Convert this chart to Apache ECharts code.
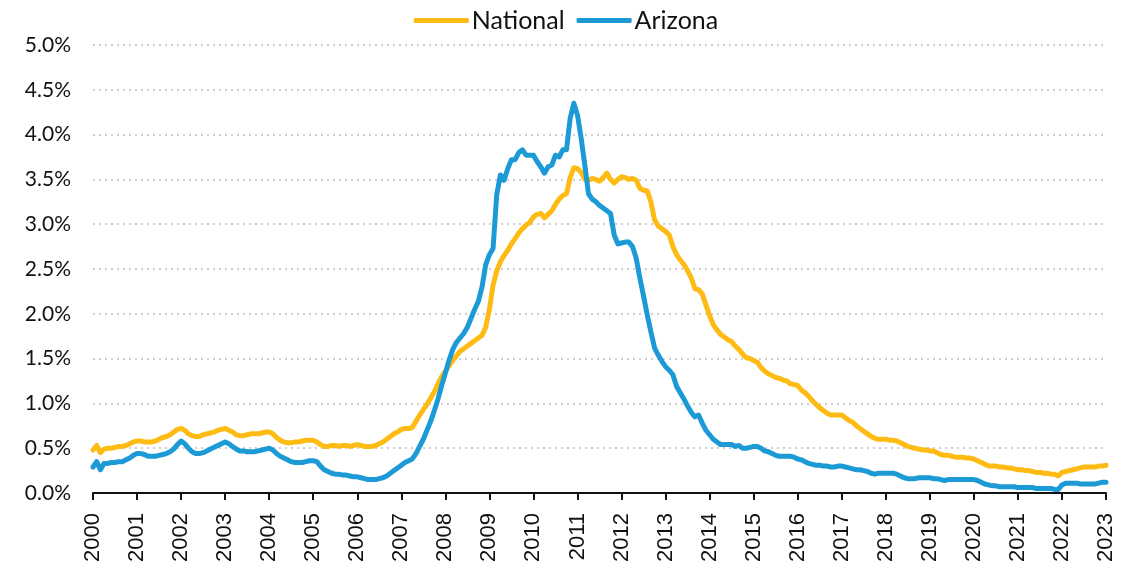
<!DOCTYPE html>
<html>
<head>
<meta charset="utf-8">
<script src="https://cdn.jsdelivr.net/npm/echarts@6/dist/echarts.min.js"></script>
<style>
	html, body { margin: 0; padding: 0; background: #fff; }
	#chart { width: 1132px; height: 562px; }
</style>
</head>
<body>
<div id="chart"></div>
<script>
// 月度数据，2000-01 至 2023-01（百分比）
let startYear = 2000
let endYear = 2023

let national = [
	0.48, 0.53, 0.45, 0.49, 0.50, 0.50, 0.51, 0.52, 0.52, 0.53, 0.55, 0.57, // 2000
	0.58, 0.58, 0.57, 0.57, 0.57, 0.58, 0.60, 0.62, 0.63, 0.65, 0.68, 0.71, // 2001
	0.72, 0.70, 0.66, 0.64, 0.63, 0.63, 0.65, 0.66, 0.67, 0.68, 0.70, 0.71, // 2002
	0.72, 0.70, 0.68, 0.65, 0.64, 0.64, 0.65, 0.66, 0.66, 0.66, 0.67, 0.68, // 2003
	0.68, 0.66, 0.62, 0.59, 0.57, 0.56, 0.56, 0.57, 0.57, 0.58, 0.59, 0.59, // 2004
	0.59, 0.57, 0.54, 0.52, 0.52, 0.53, 0.53, 0.52, 0.53, 0.53, 0.52, 0.53, // 2005
	0.54, 0.53, 0.52, 0.52, 0.52, 0.53, 0.55, 0.57, 0.60, 0.63, 0.66, 0.68, // 2006
	0.71, 0.72, 0.72, 0.73, 0.80, 0.87, 0.93, 0.99, 1.06, 1.13, 1.22, 1.30, // 2007
	1.36, 1.42, 1.48, 1.53, 1.58, 1.61, 1.64, 1.67, 1.70, 1.73, 1.76, 1.85, // 2008
	2.05, 2.32, 2.48, 2.58, 2.65, 2.71, 2.78, 2.84, 2.90, 2.95, 2.99, 3.02, // 2009
	3.08, 3.11, 3.12, 3.07, 3.11, 3.15, 3.22, 3.28, 3.32, 3.34, 3.52, 3.63, // 2010
	3.62, 3.58, 3.50, 3.49, 3.51, 3.50, 3.48, 3.52, 3.57, 3.50, 3.46, 3.50, // 2011
	3.53, 3.52, 3.50, 3.51, 3.49, 3.40, 3.38, 3.37, 3.25, 3.05, 2.98, 2.95, // 2012
	2.92, 2.88, 2.75, 2.66, 2.60, 2.55, 2.48, 2.40, 2.28, 2.27, 2.22, 2.10, // 2013
	1.98, 1.88, 1.82, 1.77, 1.74, 1.71, 1.69, 1.64, 1.60, 1.55, 1.51, 1.50, // 2014
	1.48, 1.46, 1.40, 1.36, 1.33, 1.31, 1.29, 1.28, 1.26, 1.25, 1.22, 1.21, // 2015
	1.20, 1.15, 1.12, 1.08, 1.03, 0.99, 0.95, 0.92, 0.89, 0.87, 0.87, 0.87, // 2016
	0.87, 0.84, 0.81, 0.79, 0.75, 0.72, 0.69, 0.66, 0.63, 0.61, 0.60, 0.60, // 2017
	0.60, 0.59, 0.59, 0.58, 0.56, 0.54, 0.52, 0.51, 0.50, 0.49, 0.48, 0.48, // 2018
	0.47, 0.47, 0.45, 0.43, 0.42, 0.42, 0.41, 0.40, 0.40, 0.40, 0.39, 0.39, // 2019
	0.38, 0.36, 0.34, 0.32, 0.30, 0.30, 0.30, 0.29, 0.29, 0.28, 0.28, 0.27, // 2020
	0.26, 0.26, 0.25, 0.25, 0.24, 0.23, 0.23, 0.22, 0.22, 0.21, 0.21, 0.19, // 2021
	0.23, 0.24, 0.25, 0.26, 0.27, 0.28, 0.29, 0.29, 0.29, 0.29, 0.30, 0.30, // 2022
	0.31 // 2023-01
]

let arizona = [
	0.29, 0.35, 0.26, 0.33, 0.33, 0.34, 0.34, 0.35, 0.35, 0.37, 0.39, 0.42, // 2000
	0.44, 0.44, 0.43, 0.41, 0.41, 0.41, 0.42, 0.43, 0.44, 0.46, 0.49, 0.54, // 2001
	0.58, 0.55, 0.50, 0.46, 0.44, 0.44, 0.45, 0.47, 0.49, 0.51, 0.53, 0.55, // 2002
	0.57, 0.55, 0.52, 0.49, 0.47, 0.47, 0.46, 0.46, 0.46, 0.47, 0.48, 0.49, // 2003
	0.50, 0.48, 0.44, 0.41, 0.39, 0.37, 0.35, 0.34, 0.34, 0.34, 0.35, 0.36, // 2004
	0.36, 0.35, 0.30, 0.26, 0.24, 0.22, 0.21, 0.21, 0.20, 0.20, 0.19, 0.18, // 2005
	0.18, 0.17, 0.16, 0.15, 0.15, 0.15, 0.16, 0.17, 0.19, 0.22, 0.25, 0.28, // 2006
	0.31, 0.34, 0.36, 0.38, 0.44, 0.52, 0.60, 0.70, 0.80, 0.92, 1.05, 1.20, // 2007
	1.34, 1.48, 1.60, 1.68, 1.73, 1.78, 1.85, 1.95, 2.05, 2.14, 2.30, 2.55, // 2008
	2.66, 2.73, 3.33, 3.55, 3.49, 3.62, 3.72, 3.72, 3.80, 3.83, 3.77, 3.77, // 2009
	3.77, 3.70, 3.64, 3.57, 3.64, 3.66, 3.77, 3.75, 3.83, 3.83, 4.18, 4.35, // 2010
	4.22, 3.96, 3.66, 3.34, 3.28, 3.25, 3.21, 3.18, 3.15, 3.12, 2.88, 2.78, // 2011
	2.79, 2.80, 2.80, 2.75, 2.62, 2.40, 2.20, 1.99, 1.80, 1.62, 1.54, 1.47, // 2012
	1.41, 1.37, 1.32, 1.19, 1.12, 1.05, 0.97, 0.90, 0.85, 0.87, 0.78, 0.70, // 2013
	0.65, 0.60, 0.57, 0.54, 0.54, 0.54, 0.54, 0.52, 0.53, 0.50, 0.50, 0.51, // 2014
	0.52, 0.52, 0.50, 0.47, 0.46, 0.44, 0.42, 0.41, 0.41, 0.41, 0.41, 0.40, // 2015
	0.38, 0.37, 0.35, 0.33, 0.32, 0.31, 0.31, 0.30, 0.30, 0.29, 0.29, 0.30, // 2016
	0.30, 0.29, 0.28, 0.27, 0.26, 0.26, 0.25, 0.24, 0.22, 0.21, 0.22, 0.22, // 2017
	0.22, 0.22, 0.22, 0.21, 0.19, 0.17, 0.16, 0.16, 0.16, 0.17, 0.17, 0.17, // 2018
	0.17, 0.16, 0.16, 0.15, 0.14, 0.15, 0.15, 0.15, 0.15, 0.15, 0.15, 0.15, // 2019
	0.15, 0.14, 0.12, 0.10, 0.09, 0.08, 0.08, 0.07, 0.07, 0.07, 0.07, 0.07, // 2020
	0.06, 0.06, 0.06, 0.06, 0.06, 0.05, 0.05, 0.05, 0.05, 0.05, 0.04, 0.04, // 2021
	0.09, 0.11, 0.11, 0.11, 0.11, 0.10, 0.10, 0.10, 0.10, 0.10, 0.11, 0.12, // 2022
	0.12 // 2023-01
]

// 月份类目
let months = []
for (let y = startYear; y <= endYear; y++) {
	for (let m = 1; m <= 12; m++) {
		if (y == endYear && m > 1) {
			break
		}
		months.push(y + "-" + (m < 10 ? "0" + m : m))
	}
}

let isYearStart = function (index) {
	return index % 12 == 0
}

let chart = echarts.init(document.getElementById("chart"))
chart.setOption({
	animation: false,
	legend: {
		top: 3,
		left: "center",
		itemWidth: 55,
		itemHeight: 5,
		itemGap: 12,
		icon: "roundRect",
		textStyle: {
			fontFamily: "Lato",
			fontSize: 25,
			color: "#111",
			padding: [0, 0, 0, -2]
		},
		data: ["National", "Arizona"]
	},
	grid: {
		left: 93,
		right: 26,
		top: 45,
		bottom: 69,
		containLabel: false,
		outerBoundsMode: "none"
	},
	xAxis: {
		type: "category",
		data: months,
		boundaryGap: false,
		axisLine: {
			lineStyle: {
				color: "#111",
				width: 2
			}
		},
		axisTick: {
			interval: function (index) {
				return isYearStart(index)
			},
			length: 7,
			lineStyle: {
				color: "#111",
				width: 2
			}
		},
		axisLabel: {
			interval: function (index) {
				return isYearStart(index)
			},
			formatter: function (value) {
				return value.substring(0, 4)
			},
			rotate: 90,
			margin: 20,
			fontFamily: "Liberation Sans",
			fontSize: 22,
			color: "#111"
		},
		splitLine: {
			show: false
		}
	},
	yAxis: {
		type: "value",
		min: 0,
		max: 5,
		interval: 0.5,
		axisLine: {
			show: false
		},
		axisTick: {
			show: false
		},
		axisLabel: {
			formatter: function (value) {
				return value.toFixed(1) + "%"
			},
			margin: 22,
			fontFamily: "Lato",
			fontSize: 21,
			color: "#111"
		},
		splitLine: {
			lineStyle: {
				color: "#cfcfcf",
				width: 2,
				type: [2, 4]
			}
		}
	},
	series: [
		{
			name: "National",
			type: "line",
			data: national,
			showSymbol: false,
			symbol: "none",
			lineStyle: {
				color: "#FDBB13",
				width: 5,
				cap: "round",
				join: "round"
			},
			itemStyle: {
				color: "#FDBB13"
			}
		},
		{
			name: "Arizona",
			type: "line",
			data: arizona,
			showSymbol: false,
			symbol: "none",
			lineStyle: {
				color: "#1B9AD5",
				width: 5,
				cap: "round",
				join: "round"
			},
			itemStyle: {
				color: "#1B9AD5"
			}
		}
	]
})
</script>
</body>
</html>
